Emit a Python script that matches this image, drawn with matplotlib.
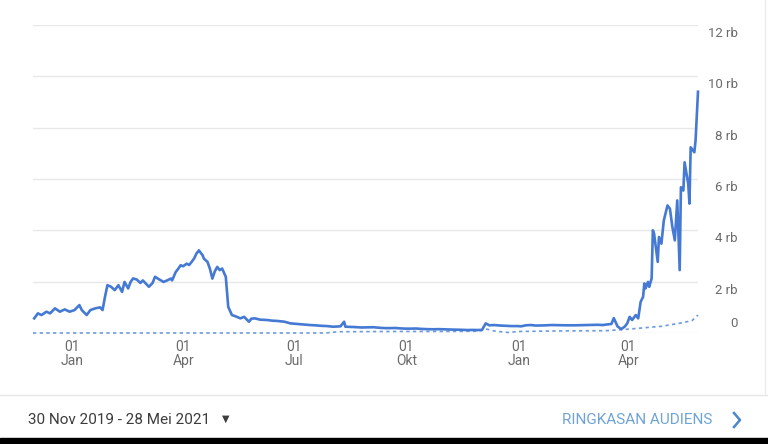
import numpy as np
import pandas as pd
import matplotlib.pyplot as plt
from matplotlib.lines import Line2D

plt.rcParams['font.family'] = ['Roboto', 'DejaVu Sans']

# ----------------------------------------------------------------------------------
# Data (users per day, 30 Nov 2019 - 28 Mei 2021)
start = pd.Timestamp("2019-11-30")
end = pd.Timestamp("2021-05-28")

# days since start of the range
day = [1, 4, 7, 11, 14, 18, 22, 26, 30, 34, 38, 40, 44, 47, 51, 55, 57, 59, 61, 64,
       67, 70, 73, 75, 78, 80, 82, 85, 88, 90, 95, 98, 100, 103, 107, 110, 113, 114, 117, 119,
       121, 123, 126, 128, 130, 132, 134, 136, 137, 139, 140, 143, 145, 147, 149, 151, 153, 155, 156, 158,
       159, 160, 162, 163, 166, 170, 173, 177, 179, 182, 186, 192, 196, 200, 206, 211, 217, 222, 227, 231,
       236, 241, 246, 252, 255, 256, 259, 264, 269, 274, 279, 285, 289, 293, 297, 301, 305, 310, 314, 318,
       323, 328, 333, 338, 342, 347, 351, 356, 360, 364, 368, 371, 374, 378, 383, 387, 392, 397, 400, 404,
       408, 412, 418, 425, 431, 437, 444, 452, 457, 463, 467, 470, 474, 476, 479, 482, 485, 487, 489, 491,
       494, 496, 498, 500, 501, 502, 504, 505, 507, 508, 509, 512, 513, 515, 516, 517, 520, 522, 524, 526,
       528, 530, 531, 533, 534, 537, 538, 539, 541, 542, 543, 545]
users = [570, 765, 700, 830, 765, 960, 830, 920, 830, 893, 1087, 893, 700, 893, 960, 1000, 893, 1410, 1864, 1800,
         1670, 1864, 1600, 1990, 1735, 1990, 2125, 2085, 1950, 2050, 1800, 1950, 2190, 2100, 1990, 2050, 2120, 2050, 2380, 2500,
         2640, 2600, 2700, 2650, 2770, 2900, 3100, 3220, 3150, 3030, 2900, 2770, 2500, 2120, 2400, 2575, 2450, 2510, 2400, 2190,
         1600, 1020, 800, 700, 650, 570, 630, 440, 560, 570, 520, 505, 480, 470, 440, 375, 350, 330, 310, 300,
         280, 270, 245, 260, 440, 245, 240, 230, 215, 220, 225, 200, 190, 190, 195, 180, 170, 170, 175, 160,
         150, 145, 150, 140, 135, 130, 125, 115, 120, 115, 120, 375, 300, 310, 290, 280, 270, 270, 260, 300,
         310, 290, 295, 310, 305, 300, 300, 310, 315, 320, 310, 330, 350, 580, 260, 150, 250, 375, 630, 505,
         700, 570, 1215, 1410, 1930, 1735, 1990, 1800, 2125, 4000, 3870, 2770, 3740, 3480, 3935, 4390, 4970, 4840, 4130, 3610,
         5165, 2450, 5680, 5550, 6650, 5810, 5040, 7235, 7105, 7040, 7500, 9400]

# comparison period (dotted)
prevDay = [0, 240, 250, 300, 340, 365, 372, 378, 385, 390, 398, 430, 470, 488, 500, 515, 530, 540, 545]
prevUsers = [0, 0, 50, 60, 60, 70, 150, 80, 40, 20, 60, 80, 90, 150, 200, 260, 380, 480, 700]

tickDates = ["2020-01-01", "2020-04-01", "2020-07-01", "2020-10-01", "2021-01-01", "2021-04-01"]
tickMonths = ["Jan", "Apr", "Jul", "Okt", "Jan", "Apr"]
yTicks = [0, 2000, 4000, 6000, 8000, 10000, 12000]
yLabels = ["0", "2 rb", "4 rb", "6 rb", "8 rb", "10 rb", "12 rb"]
# ----------------------------------------------------------------------------------

dates = start + pd.to_timedelta(day, unit="D")
prevDates = start + pd.to_timedelta(prevDay, unit="D")

W, H = 768, 444
fig = plt.figure(figsize=(W / 100, H / 100), dpi=100)
ax = fig.add_axes([33 / W, 1 - 333 / H, (698 - 33) / W, (333 - 25) / H])

ax.plot(prevDates, prevUsers, color='#6d9be0', lw=1.2, linestyle=(0, (2, 2)), clip_on=False, zorder=3)
ax.plot(dates, users, color='#4479d4', lw=1.9, clip_on=False, zorder=4)

ax.set_xlim(start, end)
ax.set_ylim(0, 12000)
for s in ax.spines.values():
    s.set_visible(False)

ax.set_yticks(yTicks)
ax.yaxis.grid(True, color='#e8e8e8', lw=1)
ax.tick_params(axis='y', length=0, labelleft=False)
ax.set_axisbelow(True)

ax.set_xticks(pd.to_datetime(tickDates))
ax.set_xticklabels(["01\n" + m for m in tickMonths], color='#6b6b6b', fontsize=10, linespacing=1.0)
ax.tick_params(axis='x', length=0, pad=5)

# y labels on the right: under the gridline, except 0 which sits above it
for v, lab in zip(yTicks, yLabels):
    dy = 7.0 if v == 0 else -6.2
    ax.annotate(lab, xy=(1, v), xycoords=('axes fraction', 'data'), xytext=(28.5, dy),
                textcoords='offset points', ha='right', va='center', color='#6b6b6b', fontsize=9.5)

# card footer
fig.add_artist(Line2D([0, 1], [1 - 395 / H] * 2, color='#e6e6e6', lw=1))
fig.add_artist(Line2D([765 / W] * 2, [1 - 395 / H, 1], color='#ececec', lw=1))
fig.text(28 / W, 1 - 420 / H, "30 Nov 2019 - 28 Mei 2021", fontsize=11, color='#3c3c3c', va='center')
fig.text(222 / W, 1 - 419 / H, "\u25BC", fontsize=7, color='#3c3c3c', va='center', family='DejaVu Sans')
fig.text(712 / W, 1 - 420 / H, "RINGKASAN AUDIENS", fontsize=11, color='#6fa3d6', va='center', ha='right')
fig.add_artist(Line2D([734 / W, 740 / W, 734 / W], [1 - 413 / H, 1 - 420 / H, 1 - 427 / H],
                      color='#4a86c8', lw=1.8))
fig.patches.append(plt.Rectangle((0, 0), 1, 6 / H, transform=fig.transFigure, color='black'))

plt.savefig('out.png', dpi=100)
